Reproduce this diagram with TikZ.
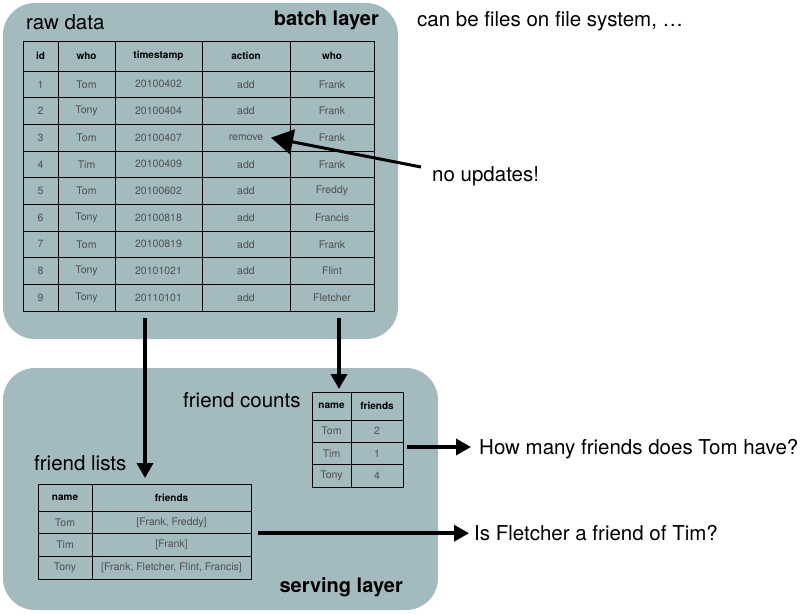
\documentclass[tikz,border=0pt]{standalone}
\usepackage{fontspec}
\setmainfont{TeX Gyre Heros}
\usetikzlibrary{positioning,arrows.meta}

\definecolor{layerblue}{RGB}{163,186,191}
\definecolor{celltext}{RGB}{80,80,80}

\tikzset{
  layer/.style={fill=layerblue, rounded corners=32pt},
  cell/.style={draw, line width=0.9pt, inner sep=0pt, text=celltext, font=\fontsize{10.5}{12}\selectfont},
  headcell/.style={cell, text=black, font=\bfseries\fontsize{10}{12}\selectfont},
  label/.style={inner sep=0pt, anchor=base west, font=\fontsize{20.5}{24}\selectfont},
  title/.style={inner sep=0pt, anchor=base east, font=\bfseries\fontsize{20}{24}\selectfont},
  bigarrow/.style={line width=3.5pt, -{Triangle[length=15pt,width=16pt]}}
}

\begin{document}
\begin{tikzpicture}[x=1pt, y=-1pt]
\useasboundingbox (0,0) rectangle (803,615);

% Layers
\fill[layer] (3,3) rectangle (398,339);
\fill[layer] (3,368) rectangle (438,610);

% Titles
\node[label] (rawlabel) at (26,30) {raw data};
\node[title] (batch) at (379,26) {batch layer};
\node[label] (files) at (417,27) {can be files on file system, \dots};
\node[label] (countlabel) at (183,407) {friend counts};
\node[label] (listlabel) at (34,470) {friend lists};
\node[title] (serving) at (403,592) {serving layer};

% Raw data table
\foreach \x/\w/\t [count=\c] in {40.5/35/id, 86.5/57/who, 158.5/87/timestamp, 246/88/action, 332/84/who}
  \node[headcell, minimum width=\w pt, minimum height=30pt] (raw-0-\c) at (\x,56) {\t};
\foreach \id/\who/\ts/\act/\whom [count=\r] in {1/Tom/20100402/add/Frank, 2/Tony/20100404/add/Frank,
    3/Tom/20100407/remove/Frank, 4/Tim/20100409/add/Frank, 5/Tom/20100602/add/Freddy,
    6/Tony/20100818/add/Francis, 7/Tom/20100819/add/Frank, 8/Tony/20101021/add/Flint,
    9/Tony/20110101/add/Fletcher}{
  \pgfmathsetmacro\yy{71+(\r-0.5)*26.67}
  \node[cell, minimum width=35pt, minimum height=26.67pt] (raw-\r-1) at (40.5,\yy) {\id};
  \node[cell, minimum width=57pt, minimum height=26.67pt] (raw-\r-2) at (86.5,\yy) {\who};
  \node[cell, minimum width=87pt, minimum height=26.67pt] (raw-\r-3) at (158.5,\yy) {\ts};
  \node[cell, minimum width=88pt, minimum height=26.67pt] (raw-\r-4) at (246,\yy) {\act};
  \node[cell, minimum width=84pt, minimum height=26.67pt] (raw-\r-5) at (332,\yy) {\whom};
}

% Friend counts table
\node[headcell, minimum width=39pt, minimum height=28pt] (cnt-0-1) at (331.5,406) {name};
\node[headcell, minimum width=52pt, minimum height=28pt] (cnt-0-2) at (377,406) {friends};
\foreach \who/\n [count=\r] in {Tom/2, Tim/1, Tony/4}{
  \pgfmathsetmacro\yy{420+(\r-0.5)*22.33}
  \node[cell, minimum width=39pt, minimum height=22.33pt] (cnt-\r-1) at (331.5,\yy) {\who};
  \node[cell, minimum width=52pt, minimum height=22.33pt] (cnt-\r-2) at (377,\yy) {\n};
}

% Friend lists table
\node[headcell, minimum width=54pt, minimum height=27pt] (lst-0-1) at (65,497.5) {name};
\node[headcell, minimum width=159pt, minimum height=27pt] (lst-0-2) at (171.5,497.5) {friends};
\foreach \who/\fl [count=\r] in {Tom/{[Frank, Freddy]}, Tim/{[Frank]}, Tony/{[Frank, Fletcher, Flint, Francis]}}{
  \pgfmathsetmacro\yy{511+(\r-0.5)*22.67}
  \node[cell, minimum width=54pt, minimum height=22.67pt] (lst-\r-1) at (65,\yy) {\who};
  \node[cell, minimum width=159pt, minimum height=22.67pt] (lst-\r-2) at (171.5,\yy) {\fl};
}

% Questions
\node[label] (howmany) at (479,454) {How many friends does Tom have?};
\node[label] (isfriend) at (474,540) {Is Fletcher a friend of Tim?};
\node[label] (note) at (432,182) {no updates!};

% Edges
\coordinate (listsout) at (145,318);
\coordinate (listsin) at (145,478);
\coordinate (countsout) at (339,318);
\coordinate (countsin) at (339,389);
\draw[bigarrow] (listsout) -- (listsin);
\draw[bigarrow] (countsout) -- (countsin);
\draw[bigarrow] ([xshift=4pt]cnt-2-2.east |- 0,447) -- ([xshift=-8pt]howmany.west |- 0,447);
\draw[bigarrow] ([xshift=7pt]lst-2-2.north east) -- ([xshift=-5pt]isfriend.west |- lst-2-2.north east);
\coordinate (updstart) at (421,167);
\draw[line width=3pt, -{Triangle[length=22pt,width=25pt]}] (updstart) -- ([xshift=25pt]raw-3-4.center);
\end{tikzpicture}
\end{document}
